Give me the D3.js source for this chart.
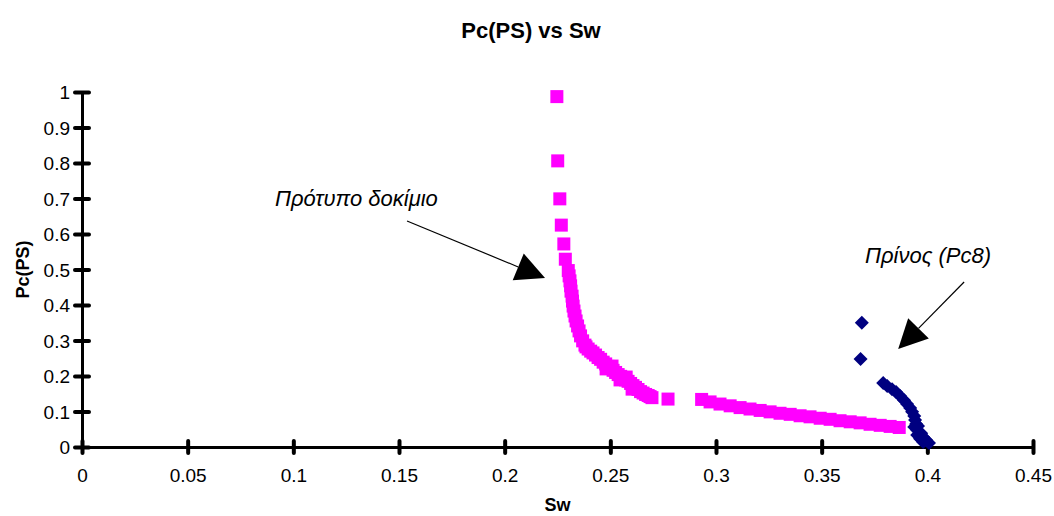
<!DOCTYPE html>
<html>
<head>
<meta charset="utf-8">
<script src="https://cdn.jsdelivr.net/npm/d3@7"></script>
<style>
  html, body { margin: 0; padding: 0; background: #fff; }
  svg { display: block; font-family: "Liberation Sans", Arial, sans-serif; }
</style>
</head>
<body>
<svg id="chart" width="1054" height="516"></svg>
<script>
// Standard specimen (Πρότυπο δοκίμιο): water saturation and capillary pressure
const standardSw = [
  0.2247, 0.2251, 0.2261, 0.2268, 0.2280, 0.2287, 0.2301, 0.2305, 0.2309, 0.2312,
  0.2314, 0.2319, 0.2321, 0.2324, 0.2328, 0.2333, 0.2338, 0.2345, 0.2352, 0.2359,
  0.2369, 0.2380,
  0.2385, 0.2395, 0.2407, 0.2418, 0.2430, 0.2442, 0.2454, 0.2466, 0.2478, 0.2489,
  0.2501, 0.2513, 0.2525, 0.2537, 0.2549, 0.2560, 0.2572, 0.2584, 0.2596, 0.2607,
  0.2619, 0.2631, 0.2643, 0.2655, 0.2667, 0.2679, 0.2688, 0.2697,
  0.2480, 0.2546, 0.2603, 0.2508, 0.2575,
  0.2773,
  0.2932, 0.2972, 0.3019, 0.3067, 0.3114, 0.3161, 0.3209, 0.3256, 0.3303, 0.3351,
  0.3398, 0.3445, 0.3493, 0.3540, 0.3587, 0.3635, 0.3682, 0.3729, 0.3777, 0.3824,
  0.3867
];
const standardPc = [
  0.987, 0.806, 0.699, 0.625, 0.572, 0.529, 0.497, 0.482, 0.468, 0.454,
  0.439, 0.425, 0.411, 0.397, 0.383, 0.369, 0.355, 0.341, 0.327, 0.313,
  0.299, 0.287,
  0.282, 0.276, 0.270, 0.265, 0.259, 0.252, 0.247, 0.239, 0.234, 0.227,
  0.221, 0.216, 0.210, 0.204, 0.199, 0.193, 0.189, 0.185, 0.179, 0.173,
  0.168, 0.162, 0.156, 0.152, 0.148, 0.145, 0.142, 0.139,
  0.220, 0.189, 0.163, 0.228, 0.197,
  0.135,
  0.134, 0.127, 0.121, 0.116, 0.111, 0.107, 0.103, 0.099, 0.095, 0.092,
  0.088, 0.085, 0.081, 0.078, 0.074, 0.071, 0.068, 0.064, 0.061, 0.058,
  0.055
];

// Pine sample (Πρίνος, Pc8)
const pineSw = [
  0.3690, 0.3684,
  0.3791, 0.3810, 0.3833, 0.3852, 0.3871, 0.3890, 0.3904, 0.3919, 0.3928, 0.3938,
  0.3942, 0.3947, 0.3956, 0.3938, 0.3952, 0.3971, 0.3952, 0.3980, 0.3966, 0.3994,
  0.3980, 0.4008
];
const pinePc = [
  0.350, 0.248,
  0.180, 0.172, 0.163, 0.155, 0.144, 0.132, 0.121, 0.110, 0.099, 0.087,
  0.076, 0.065, 0.059, 0.056, 0.048, 0.039, 0.034, 0.028, 0.023, 0.020,
  0.014, 0.011
];

// Axis ticks
const xTicks = [0, 0.05, 0.1, 0.15, 0.2, 0.25, 0.3, 0.35, 0.4, 0.45];
const xTickLabels = ["0", "0.05", "0.1", "0.15", "0.2", "0.25", "0.3", "0.35", "0.4", "0.45"];
const yTicks = [0, 0.1, 0.2, 0.3, 0.4, 0.5, 0.6, 0.7, 0.8, 0.9, 1];
const yTickLabels = ["0", "0.1", "0.2", "0.3", "0.4", "0.5", "0.6", "0.7", "0.8", "0.9", "1"];

// Callout labels: text anchor point and arrow (from -> tip), in data units
const calloutText = ["Πρότυπο δοκίμιο", "Πρίνος (Pc8)"];
const calloutTextAt = [[0.0913, 0.678], [0.3705, 0.519]];
const calloutFrom = [[0.1538, 0.6366], [0.4174, 0.4648]];
const calloutTip = [[0.2191, 0.4760], [0.3862, 0.2760]];

const svg = d3.select("#chart");
const W = 1054, H = 516;
const margin = { left: 82, right: 21, top: 92, bottom: 69 };

svg.append("rect").attr("width", W).attr("height", H).attr("fill", "#fff");

const x = d3.scaleLinear().domain([0, 0.45]).range([margin.left, W - margin.right]);
const y = d3.scaleLinear().domain([0, 1]).range([H - margin.bottom, margin.top]);

// Title and axis titles
svg.append("text")
  .attr("x", 531).attr("y", 38)
  .attr("text-anchor", "middle")
  .attr("font-weight", "bold").attr("font-size", 22)
  .text("Pc(PS) vs Sw");

svg.append("text")
  .attr("x", (x.range()[0] + x.range()[1]) / 2).attr("y", 511)
  .attr("text-anchor", "middle")
  .attr("font-weight", "bold").attr("font-size", 18)
  .text("Sw");

svg.append("text")
  .attr("transform", `translate(29,${(y.range()[0] + y.range()[1]) / 2}) rotate(-90)`)
  .attr("text-anchor", "middle")
  .attr("font-weight", "bold").attr("font-size", 18)
  .text("Pc(PS)");

// Axes
const xAxis = d3.axisBottom(x)
  .tickValues(xTicks)
  .tickFormat((d, i) => xTickLabels[i])
  .tickSizeInner(7).tickSizeOuter(0);
const gx = svg.append("g")
  .attr("transform", `translate(0,${y(0)})`)
  .call(xAxis);
gx.select(".domain").attr("stroke", "#000").attr("stroke-width", 3);
gx.selectAll(".tick line")
  .attr("y1", -6).attr("y2", 6)
  .attr("stroke", "#000").attr("stroke-width", 4).attr("stroke-linecap", "round");
gx.selectAll(".tick text")
  .attr("y", 34.5).attr("dy", 0)
  .attr("font-size", 19).attr("font-family", "Liberation Sans, Arial, sans-serif")
  .attr("fill", "#000");

const yAxis = d3.axisLeft(y)
  .tickValues(yTicks)
  .tickFormat((d, i) => yTickLabels[i])
  .tickSizeInner(7).tickSizeOuter(0);
const gy = svg.append("g")
  .attr("transform", `translate(${x(0)},0)`)
  .call(yAxis);
gy.select(".domain").attr("stroke", "#000").attr("stroke-width", 3);
gy.selectAll(".tick line")
  .attr("x1", -7).attr("x2", 7)
  .attr("stroke", "#000").attr("stroke-width", 4).attr("stroke-linecap", "round");
gy.selectAll(".tick text")
  .attr("x", -12).attr("dy", "0.35em")
  .attr("font-size", 19).attr("font-family", "Liberation Sans, Arial, sans-serif")
  .attr("fill", "#000");

// Standard specimen: magenta squares
const sq = 13;
svg.append("g").selectAll("rect")
  .data(d3.zip(standardSw, standardPc))
  .join("rect")
  .attr("x", d => x(d[0]) - sq / 2)
  .attr("y", d => y(d[1]) - sq / 2)
  .attr("width", sq).attr("height", sq)
  .attr("fill", "#FF00FF");

// Pine sample: navy diamonds
const dm = 7;
svg.append("g").selectAll("path")
  .data(d3.zip(pineSw, pinePc))
  .join("path")
  .attr("d", d => {
    const cx = x(d[0]), cy = y(d[1]);
    return `M${cx},${cy - dm}L${cx + dm},${cy}L${cx},${cy + dm}L${cx - dm},${cy}Z`;
  })
  .attr("fill", "#000080");

// Callouts with arrows
const headLen = 29, headHalf = 14.5;
calloutText.forEach((t, i) => {
  svg.append("text")
    .attr("x", x(calloutTextAt[i][0])).attr("y", y(calloutTextAt[i][1]))
    .attr("font-style", "italic").attr("font-size", 22)
    .text(t);

  const x0 = x(calloutFrom[i][0]), y0 = y(calloutFrom[i][1]);
  const x1 = x(calloutTip[i][0]), y1 = y(calloutTip[i][1]);
  const len = Math.hypot(x1 - x0, y1 - y0);
  const ux = (x1 - x0) / len, uy = (y1 - y0) / len;
  const bx = x1 - ux * headLen, by = y1 - uy * headLen;
  svg.append("line")
    .attr("x1", x0).attr("y1", y0).attr("x2", bx).attr("y2", by)
    .attr("stroke", "#000").attr("stroke-width", 1.2);
  svg.append("path")
    .attr("d", `M${x1},${y1}L${bx - uy * headHalf},${by + ux * headHalf}L${bx + uy * headHalf},${by - ux * headHalf}Z`)
    .attr("fill", "#000");
});
</script>
</body>
</html>
